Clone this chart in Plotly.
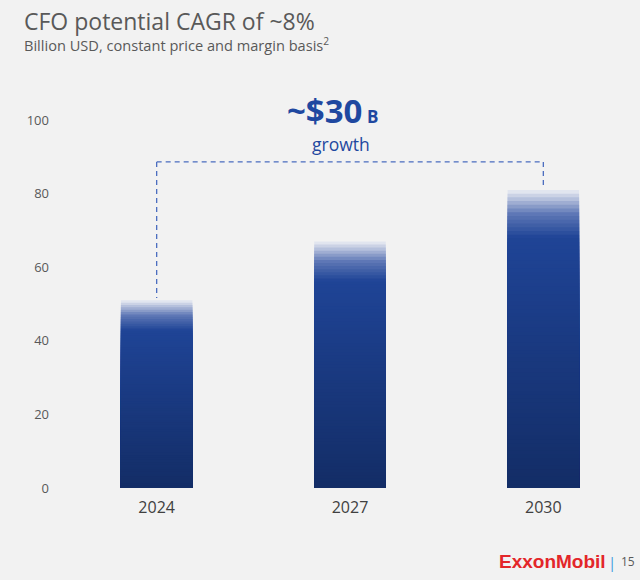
import plotly.graph_objects as go

# ---- data ----
years = ["2024", "2027", "2030"]
cfo_values = [51, 67, 81]          # Billion USD
y_ticks = [0, 20, 40, 60, 80, 100]
growth_label = "~$30"

# ---- styling ----
BG = "#f2f2f2"
N_SLICES = 80

def lerp(a, b, t):
    return tuple(a[i] + (b[i] - a[i]) * t for i in range(3))

stops = [
    (0.00, (19, 45, 102)),
    (0.50, (26, 58, 130)),
    (0.84, (31, 68, 150)),
    (0.92, (95, 120, 182)),
    (1.00, (236, 238, 244)),
]

def ramp(t):
    for (t0, c0), (t1, c1) in zip(stops[:-1], stops[1:]):
        if t0 <= t <= t1:
            r, g, b = lerp(c0, c1, (t - t0) / (t1 - t0))
            return f"rgb({r:.0f},{g:.0f},{b:.0f})"
    r, g, b = stops[-1][1]
    return f"rgb({r},{g},{b})"

# vertical gradient: tallest (lightest top) drawn first, shorter ones on top
fig = go.Figure()
for i in range(N_SLICES):
    frac = (N_SLICES - i) / N_SLICES
    col = ramp(frac - 0.5 / N_SLICES)
    fig.add_trace(go.Bar(
        x=years,
        y=[v * frac for v in cfo_values],
        marker=dict(color=col, line=dict(width=0)),
        width=0.37,
        showlegend=False,
        hoverinfo="skip",
    ))

# dashed bracket (category indices on the x axis)
first_i, last_i = 0, len(years) - 1
bracket_y = max(cfo_values) + 7.6
dash_col = "#4a6cbf"
line_style = dict(color=dash_col, width=1.3, dash="5px,4px")
fig.add_shape(type="line", xref="x", yref="y", x0=first_i, x1=last_i,
              y0=bracket_y, y1=bracket_y, line=line_style)
fig.add_shape(type="line", xref="x", yref="y", x0=first_i, x1=first_i,
              y0=bracket_y, y1=cfo_values[first_i] + 0.6, line=line_style)
fig.add_shape(type="line", xref="x", yref="y", x0=last_i, x1=last_i,
              y0=bracket_y, y1=cfo_values[last_i] + 0.6, line=line_style)

fig.update_layout(
    width=640, height=580,
    paper_bgcolor=BG, plot_bgcolor=BG,
    margin=dict(l=60, r=0, t=120, b=92),
    barmode="overlay",
    font=dict(family="Open Sans", color="#595959"),
    xaxis=dict(type="category", categoryorder="array", categoryarray=years,
               range=[-0.5, len(years) - 0.5],
               showgrid=False, zeroline=False, showline=False,
               tickfont=dict(size=16, color="#404040"),
               ticklabelstandoff=8, fixedrange=True),
    yaxis=dict(range=[0, 100], tickvals=y_ticks, showgrid=False,
               zeroline=False, showline=False,
               tickfont=dict(size=13, color="#595959"),
               ticklabelstandoff=10, fixedrange=True),
    annotations=[
        dict(text="CFO potential CAGR of ~8%", xref="paper", yref="paper",
             x=-0.065, y=1.268, xanchor="left", yanchor="middle", showarrow=False,
             font=dict(size=23, color="#595959")),
        dict(text="Billion USD, constant price and margin basis<sup>2</sup>",
             xref="paper", yref="paper", x=-0.066, y=1.204, xanchor="left",
             yanchor="middle", showarrow=False,
             font=dict(size=14.6, color="#595959")),
        dict(text="<b>" + growth_label + "</b><b><span style='font-size:17px'> B</span></b>",
             xref="paper", yref="paper", x=0.469, y=1.026, xanchor="center",
             yanchor="middle", showarrow=False,
             font=dict(size=33, color="#1f48a0")),
        dict(text="growth", xref="paper", yref="paper", x=0.484, y=0.935,
             xanchor="center", yanchor="middle", showarrow=False,
             font=dict(size=17.5, color="#1f48a0")),
        dict(text="<b>ExxonMobil</b>", xref="paper", yref="paper",
             x=0.944, y=-0.2, xanchor="right", yanchor="middle", showarrow=False,
             font=dict(family="Liberation Sans", size=19, color="#e3262a")),
        dict(text="|", xref="paper", yref="paper", x=0.952, y=-0.2,
             xanchor="center", yanchor="middle", showarrow=False,
             font=dict(size=15, color="#3d9be0")),
        dict(text="15", xref="paper", yref="paper", x=0.963, y=-0.2,
             xanchor="left", yanchor="middle", showarrow=False,
             font=dict(size=12, color="#595959")),
    ],
)

fig.write_html(
    "out.html",
    config={"displayModeBar": False},
    post_script="document.body.style.margin='0';document.body.style.background='#f2f2f2';",
)
